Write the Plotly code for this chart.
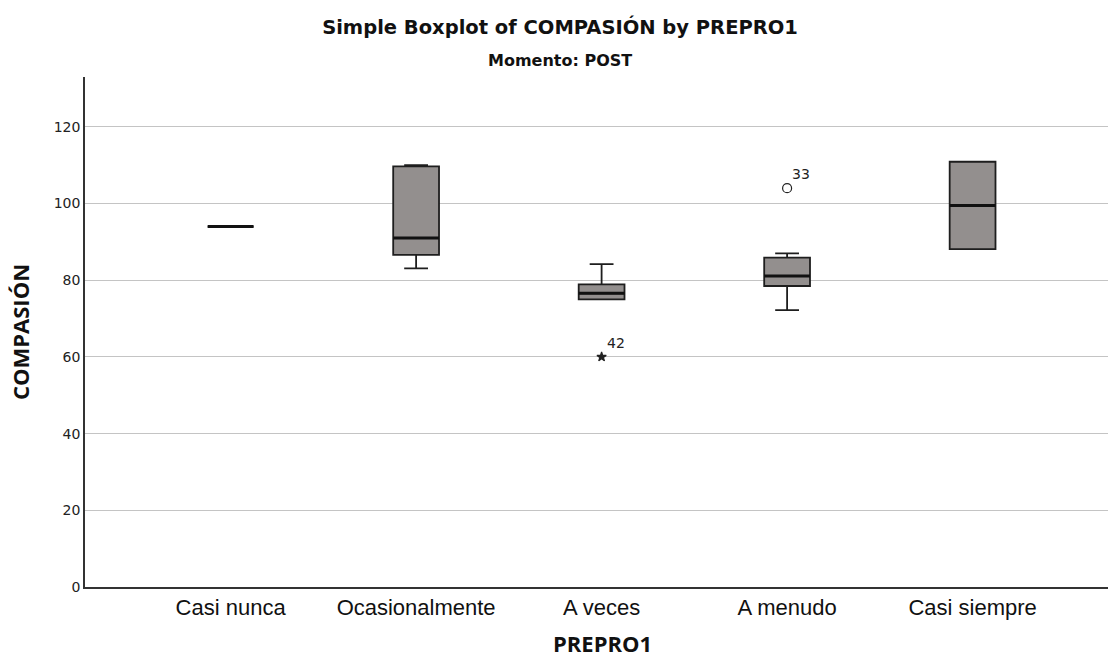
import plotly.graph_objects as go

categories = ["Casi nunca", "Ocasionalmente", "A veces", "A menudo", "Casi siempre"]
lower_whisker = [94, 83.1, 75.0, 72.2, 88.1]
q1 = [94, 86.6, 75.0, 78.5, 88.1]
median = [94, 91.0, 76.6, 81.1, 99.5]
q3 = [94, 109.7, 78.9, 85.9, 110.9]
upper_whisker = [94, 110.0, 84.2, 87.0, 110.9]

outlier_cat = [3, 2]
outlier_val = [104, 60]
outlier_id = ["33", "42"]
outlier_symbol = ["circle-open", "star"]

y_ticks = [0, 20, 40, 60, 80, 100, 120]

fig = go.Figure()
for i, c in enumerate(categories):
    fig.add_trace(go.Box(
        x=[i], q1=[q1[i]], median=[median[i]], q3=[q3[i]],
        lowerfence=[lower_whisker[i]], upperfence=[upper_whisker[i]],
        width=0.247, whiskerwidth=0.52,
        fillcolor="#938f8e", line=dict(color="#1e1e1e", width=1.8),
        boxpoints=False, showlegend=False, hoverinfo="skip",
    ))
    # thicker median line, drawn from the median value
    fig.add_trace(go.Box(
        x=[i], q1=[median[i]], median=[median[i]], q3=[median[i]],
        lowerfence=[median[i]], upperfence=[median[i]],
        width=0.247, whiskerwidth=1.0,
        fillcolor="rgba(0,0,0,0)", line=dict(color="#111111", width=3),
        boxpoints=False, showlegend=False, hoverinfo="skip",
    ))

for xv, yv, lab, sym in zip(outlier_cat, outlier_val, outlier_id, outlier_symbol):
    fig.add_trace(go.Scatter(
        x=[xv], y=[yv], mode="markers",
        marker=dict(symbol=sym, size=9 if sym == "circle-open" else 7,
                    color="#222222", line=dict(width=1.2, color="#222222")),
        showlegend=False, hoverinfo="skip",
    ))
    fig.add_annotation(x=xv, y=yv, text=lab, showarrow=False,
                       xshift=14, yshift=14,
                       font=dict(family="DejaVu Sans, sans-serif", size=14, color="#222"))

fig.update_layout(
    width=1109, height=657,
    margin=dict(l=85, r=1, t=77, b=70, autoexpand=False),
    paper_bgcolor="white", plot_bgcolor="white",
    title=dict(
        text="<b>Simple Boxplot of COMPASIÓN by PREPRO1</b>",
        x=0.505, xanchor="center", y=0.958, yanchor="middle",
        font=dict(family="DejaVu Sans, sans-serif", size=19.5, color="#111"),
    ),
    font=dict(family="DejaVu Sans, sans-serif", color="#222"),
)
fig.add_annotation(text="<b>Momento: POST</b>", xref="paper", yref="paper",
                   x=0.464, y=1.0, xanchor="center", yanchor="bottom", yshift=5,
                   showarrow=False,
                   font=dict(family="DejaVu Sans, sans-serif", size=16, color="#111"))
fig.add_annotation(text="<b>PREPRO1</b>", xref="paper", yref="paper",
                   x=0.506, y=0, xanchor="center", yanchor="middle", yshift=-56,
                   showarrow=False,
                   font=dict(family="Open Sans, DejaVu Sans, sans-serif", size=22, color="#111"))

fig.update_xaxes(
    range=[-0.785, 4.73], tickvals=list(range(len(categories))), ticktext=categories,
    showgrid=False, zeroline=False, showline=True, linecolor="#333", linewidth=1.5,
    automargin=False,
    ticks="", tickfont=dict(family="Liberation Sans, Arial, sans-serif", size=22, color="#111"),
)
fig.update_yaxes(
    range=[0, 133], tickvals=y_ticks, showgrid=True, gridcolor="#c4c4c4", gridwidth=1.2,
    zeroline=False, showline=True, linecolor="#333", linewidth=1.5,
    automargin=False,
    ticks="", tickfont=dict(family="DejaVu Sans, sans-serif", size=14, color="#222"),
    title=dict(text="<b>COMPASIÓN</b>", standoff=18,
               font=dict(family="Open Sans, DejaVu Sans, sans-serif", size=22, color="#111")),
)

fig.write_html("out.html")
